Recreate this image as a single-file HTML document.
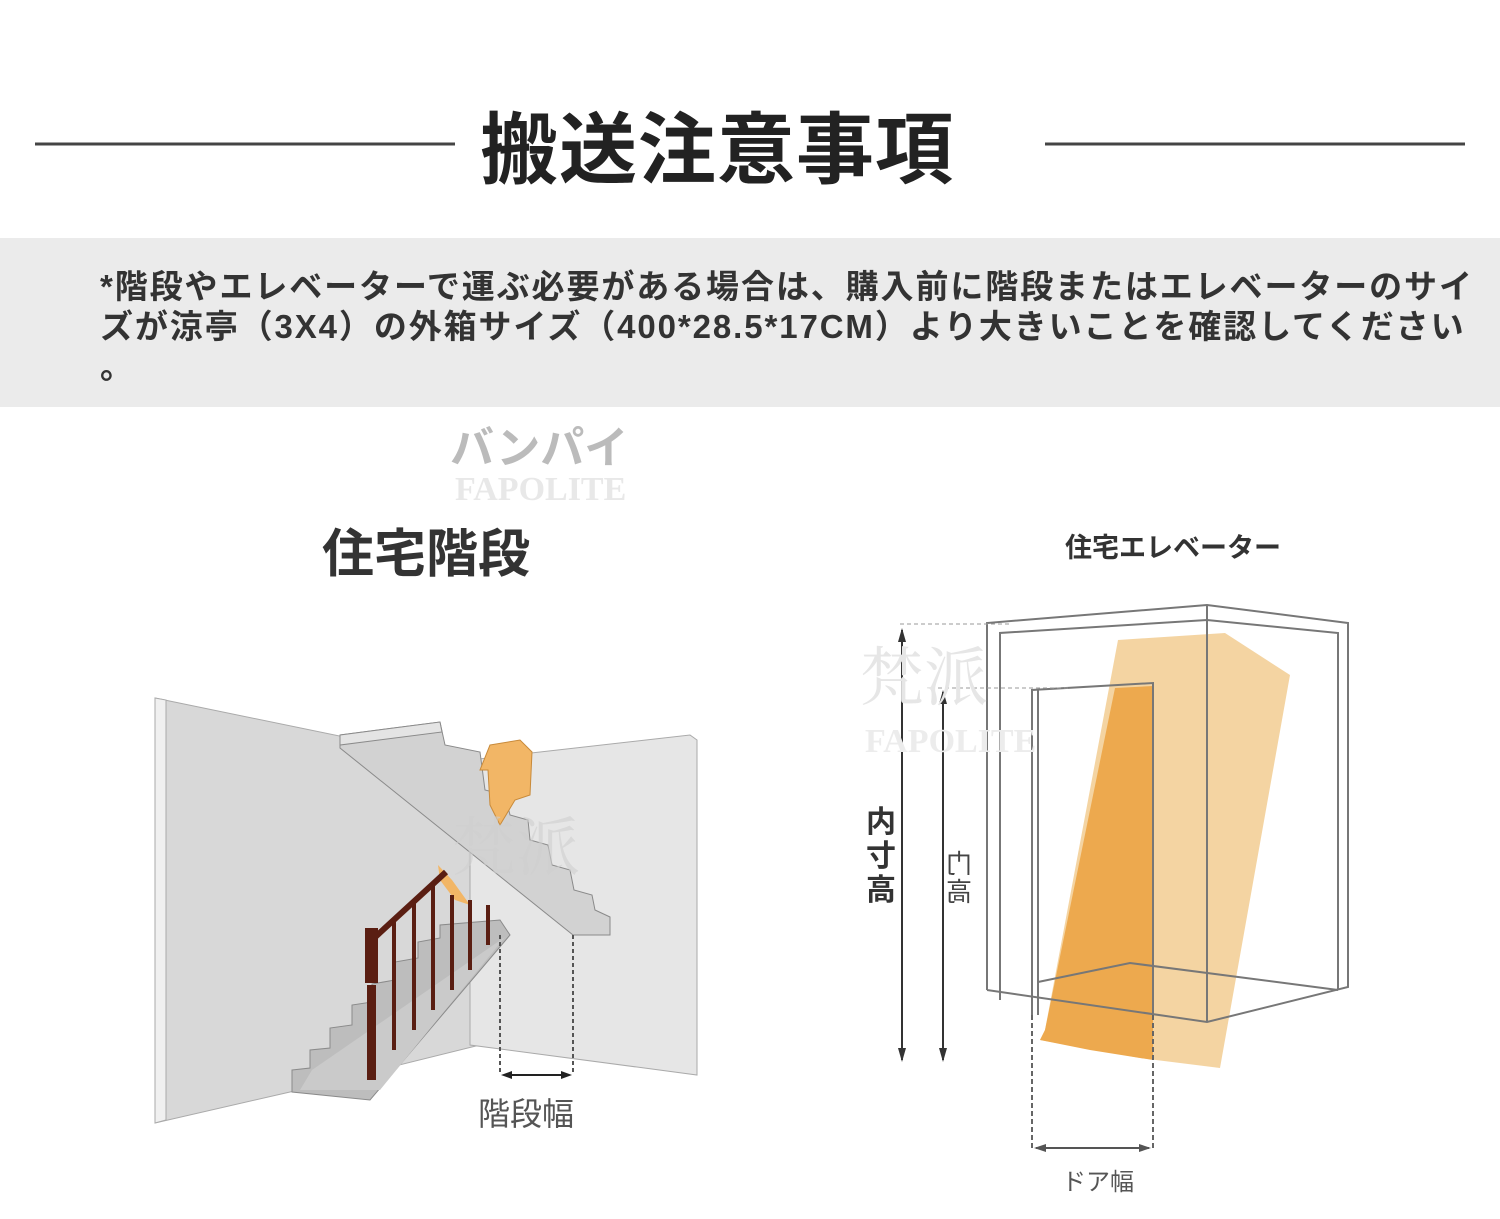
<!DOCTYPE html>
<html><head><meta charset="utf-8"><style>
body{margin:0;width:1500px;height:1219px;background:#fff;overflow:hidden;position:relative;font-family:"Liberation Sans","Noto Sans CJK JP",sans-serif}
.t{position:absolute;white-space:nowrap}
</style></head><body>
<svg width="1500" height="1219" style="position:absolute;left:0;top:0">
<line x1="35" y1="144" x2="455" y2="144" stroke="#444" stroke-width="3"/>
<line x1="1045" y1="144" x2="1465" y2="144" stroke="#444" stroke-width="3"/>
<rect x="0" y="238" width="1500" height="169" fill="#ebebeb"/>
<!-- stair figure -->
<polygon points="155,698 480,765 480,1045 290,1092 155,1123" fill="#d8d8d8" stroke="#aaa"/>
<polygon points="155,698 166,700 166,1120 155,1123" fill="#f0f0f0" stroke="#aaa"/>
<polygon points="470,760 690,735 697,740 697,1075 470,1045" fill="#e6e6e6" stroke="#aaa"/>
<!-- upper flight -->
<polygon points="340,735 440,722 445,745 480,752 485,790 505,795 510,815 528,820 530,840 548,845 552,865 570,870 574,890 592,895 595,910 610,917 610,935 573,935 340,748" fill="#d2d2d2" stroke="#8a8a8a"/>
<polygon points="340,735 440,722 442,732 340,745" fill="#e4e4e4" stroke="#8a8a8a"/>
<!-- lower flight -->
<polygon points="292,1070 310,1068 310,1050 330,1048 330,1028 352,1025 352,1005 372,1002 372,984 395,980 395,962 418,958 418,942 440,938 440,925 500,920 510,935 370,1100 292,1092" fill="#bdbdbd" stroke="#8a8a8a"/>
<polygon points="312,1070 505,937 380,1090 300,1090" fill="#cacaca"/>
<!-- orange boxes -->
<polygon points="490,745 520,740 532,752 530,795 515,800 500,825 490,805 488,770 480,770" fill="#f2b666" stroke="#c88a3a"/>
<polygon points="438,865 452,880 470,905 455,900 440,880" fill="#f2b666"/>
<!-- banister -->
<line x1="372" y1="940" x2="446" y2="872" stroke="#5a1e12" stroke-width="6"/>
<rect x="365" y="928" width="13" height="55" fill="#5a1e12"/>
<rect x="367" y="985" width="9" height="95" fill="#5a1e12"/>
<g stroke="#5a1e12" stroke-width="4">
<line x1="394" y1="920" x2="394" y2="1050"/><line x1="414" y1="903" x2="414" y2="1030"/><line x1="433" y1="886" x2="433" y2="1010"/><line x1="452" y1="895" x2="452" y2="990"/><line x1="470" y1="900" x2="470" y2="970"/><line x1="488" y1="905" x2="488" y2="945"/>
</g>
<!-- dims -->
<line x1="500" y1="935" x2="500" y2="1072" stroke="#555" stroke-width="2" stroke-dasharray="4,3"/>
<line x1="573" y1="935" x2="573" y2="1072" stroke="#555" stroke-width="2" stroke-dasharray="4,3"/>
<line x1="505" y1="1075" x2="568" y2="1075" stroke="#222" stroke-width="2"/>
<polygon points="501,1075 512,1071 512,1079" fill="#222"/><polygon points="572,1075 561,1071 561,1079" fill="#222"/>
<!-- elevator -->
<polygon points="1118,640 1225,633 1290,675 1220,1068 1140,1058 1040,1040 1045,1030" fill="#f3cf98" opacity=".9"/>
<polygon points="1115,688 1153,686 1153,1060 1090,1050 1040,1040 1045,1030" fill="#eda94e"/>
<g fill="none" stroke="#777" stroke-width="2">
<polyline points="987,990 987,623 1207,605 1348,623 1348,987 1207,1022 987,990"/>
<polyline points="1000,1000 1000,633 1207,620 1338,633 1338,990"/>
<line x1="1207" y1="605" x2="1207" y2="1022"/>
<polyline points="1032,1015 1032,690 1153,683 1153,1015"/>
<line x1="1038" y1="690" x2="1038" y2="1015"/>
<polyline points="1038,982 1130,963 1338,990"/>
</g>
<line x1="900" y1="624" x2="1010" y2="624" stroke="#999" stroke-dasharray="4,3"/>
<line x1="938" y1="688" x2="1070" y2="688" stroke="#999" stroke-dasharray="4,3"/>
<line x1="902" y1="630" x2="902" y2="1060" stroke="#333" stroke-width="2"/>
<polygon points="902,628 898,642 906,642" fill="#333"/><polygon points="902,1062 898,1048 906,1048" fill="#333"/>
<line x1="943" y1="692" x2="943" y2="1060" stroke="#333" stroke-width="2"/>
<polygon points="943,690 939,704 947,704" fill="#333"/><polygon points="943,1062 939,1048 947,1048" fill="#333"/>
<line x1="1032" y1="1015" x2="1032" y2="1150" stroke="#666" stroke-width="2" stroke-dasharray="5,3"/>
<line x1="1153" y1="1015" x2="1153" y2="1150" stroke="#666" stroke-width="2" stroke-dasharray="5,3"/>
<line x1="1036" y1="1148" x2="1149" y2="1148" stroke="#555" stroke-width="2"/>
<polygon points="1034,1148 1046,1144 1046,1152" fill="#555"/><polygon points="1151,1148 1139,1144 1139,1152" fill="#555"/>
<!-- watermarks -->
<text x="860" y="700" font-family="Liberation Serif,Noto Serif CJK SC,serif" font-size="64" fill="#e6e6e6">梵派</text>
<text x="865" y="752" font-family="Liberation Serif,serif" font-weight="bold" font-size="34" fill="#ececec">FAPOLITE</text>
<text x="452" y="870" font-family="Liberation Serif,Noto Serif CJK SC,serif" font-size="64" fill="#d0d0d0" opacity=".6">梵派</text>
<text x="455" y="500" font-family="Liberation Serif,serif" font-weight="bold" font-size="34" fill="#e8e8e8">FAPOLITE</text>
</svg>
<div class="t" style="left:480px;top:102px;font-size:78px;font-weight:bold;color:#222;line-height:96px;letter-spacing:1px">搬送注意事項</div>
<div class="t" style="left:100px;top:267px;font-size:33px;font-weight:bold;color:#333;line-height:40px;letter-spacing:1.9px">*階段やエレベーターで運ぶ必要がある場合は、購入前に階段またはエレベーターのサイ<br>ズが涼亭（3X4）の外箱サイズ（400*28.5*17CM）より大きいことを確認してください<br>。</div>
<div class="t" style="left:450px;top:412px;font-size:44px;font-weight:bold;color:#bbb">バンパイ</div>
<div class="t" style="left:322px;top:512px;font-size:52px;font-weight:bold;color:#333">住宅階段</div>
<div class="t" style="left:1065px;top:526px;font-size:27px;font-weight:bold;color:#333">住宅エレベーター</div>
<div class="t" style="left:478px;top:1089px;font-size:32px;color:#555">階段幅</div>
<div class="t" style="left:1062px;top:1162px;font-size:24px;color:#555">ドア幅</div>
<div class="t" style="left:866px;top:806px;font-size:30px;font-weight:bold;color:#333;line-height:34px">内<br>寸<br>高</div>
<div class="t" style="left:946px;top:850px;font-size:26px;color:#444;line-height:28px;transform:scaleX(-1)">门<br>高</div>
</body></html>
